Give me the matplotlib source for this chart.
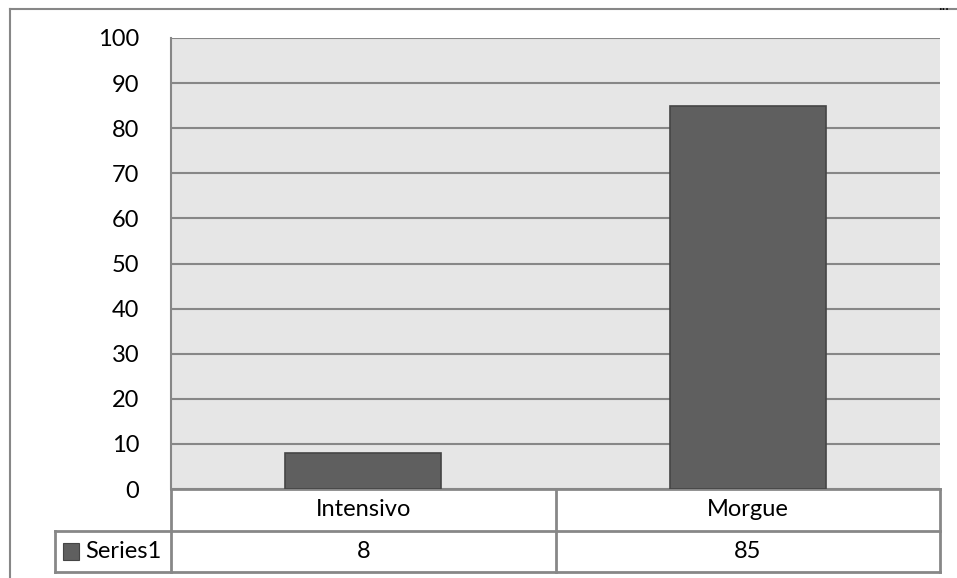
import matplotlib
matplotlib.use("Agg")

import matplotlib.pyplot as plt
from matplotlib.lines import Line2D
from matplotlib.patches import Rectangle

categories = ["Intensivo", "Morgue"]
values = [8, 85]
series_name = "Series1"
yticks = [0, 10, 20, 30, 40, 50, 60, 70, 80, 90, 100]

W, H = 957, 578
GRID = "#878787"
BAR = "#5f5f5f"
BAR_EDGE = "#454545"
BG = "#e6e6e6"

plt.rcParams["font.family"] = ["Lato", "DejaVu Sans"]

fig = plt.figure(figsize=(W / 100, H / 100), dpi=100)


def fx(px):
    return px / W


def fy(py):
    return 1 - py / H


# plot area in pixel coordinates
left, right, top, bottom = 171, 940, 38, 489
ax = fig.add_axes([fx(left), fy(bottom), fx(right) - fx(left), fy(top) - fy(bottom)])
ax.set_facecolor(BG)
ax.set_xlim(-0.5, len(categories) - 0.5)
ax.set_ylim(0, 100)
ax.bar(range(len(categories)), values, width=0.405, color=BAR,
       edgecolor=BAR_EDGE, linewidth=1.2, zorder=3)
ax.set_yticks(yticks)
ax.set_yticklabels([str(t) for t in yticks], fontsize=17)
ax.tick_params(axis="y", length=0, pad=23)
ax.set_xticks([])
ax.grid(axis="y", color=GRID, linewidth=1.5, zorder=1)
for s in ["top", "right"]:
    ax.spines[s].set_visible(False)
ax.spines["left"].set_color(GRID)
ax.spines["left"].set_linewidth(1.5)
ax.spines["bottom"].set_color(GRID)
ax.spines["bottom"].set_linewidth(2)

# outer chart frame (cropped)
fig.add_artist(Line2D([fx(10), fx(957)], [fy(9), fy(9)], color=GRID, lw=1.5))
fig.add_artist(Line2D([fx(10), fx(10)], [fy(9), fy(578)], color=GRID, lw=1.5))
fig.text(fx(944), fy(-1), "...", fontsize=11, ha="center", va="top")

# data table below the axis
row1, row2, row3 = 489, 531, 572
legend_left = 55
mid = (left + right) / 2
tbl = dict(color=GRID, lw=2)
fig.add_artist(Line2D([fx(left), fx(right)], [fy(row2), fy(row2)], **tbl))
fig.add_artist(Line2D([fx(legend_left), fx(left)], [fy(row2), fy(row2)], **tbl))
fig.add_artist(Line2D([fx(legend_left), fx(right)], [fy(row3), fy(row3)], **tbl))
fig.add_artist(Line2D([fx(left), fx(left)], [fy(row1), fy(row3)], **tbl))
fig.add_artist(Line2D([fx(mid), fx(mid)], [fy(row1), fy(row3)], **tbl))
fig.add_artist(Line2D([fx(right), fx(right)], [fy(row1), fy(row3)], **tbl))
fig.add_artist(Line2D([fx(legend_left), fx(legend_left)], [fy(row2), fy(row3)], **tbl))

col_w = (right - left) / len(categories)
for i, (cat, val) in enumerate(zip(categories, values)):
    cx = left + col_w * (i + 0.5)
    fig.text(fx(cx), fy((row1 + row2) / 2), cat, fontsize=17,
             ha="center", va="center")
    fig.text(fx(cx), fy((row2 + row3) / 2), str(val), fontsize=17,
             ha="center", va="center")

# legend key in table
fig.add_artist(Rectangle((fx(63), fy(560)), fx(16), fy(543) - fy(560),
                         facecolor=BAR, edgecolor=BAR_EDGE, lw=0.8))
fig.text(fx(85), fy((row2 + row3) / 2), series_name, fontsize=17,
         ha="left", va="center")

fig.savefig("out.png", dpi=100)
